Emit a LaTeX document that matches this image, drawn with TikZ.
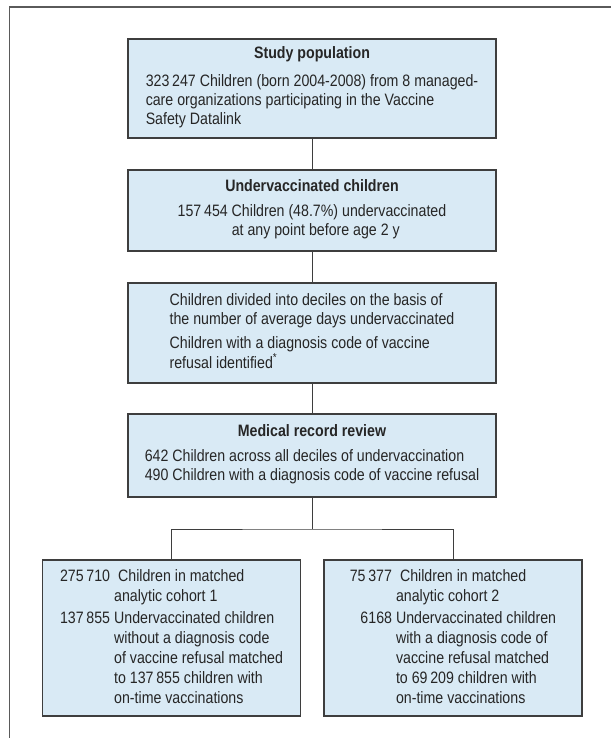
\documentclass[tikz,border=0pt]{standalone}
\usepackage{fontspec}
\setmainfont[FakeStretch=0.86]{Liberation Sans}
\definecolor{boxfill}{RGB}{217,234,245}
\definecolor{boxline}{RGB}{62,62,62}
\definecolor{boxtext}{RGB}{38,38,38}
\definecolor{framegray}{RGB}{90,90,90}
\begin{document}
\begin{tikzpicture}[x=1pt,y=-1pt,
  box/.style={draw=boxline,fill=boxfill,line width=1.1pt,inner sep=0pt,align=center,
    text=boxtext,font=\fontsize{16.5}{19}\selectfont},
  wide/.style={box,minimum width=368pt},
  cohort/.style={box,minimum width=258pt,minimum height=156pt,
    font=\fontsize{16.5}{20}\selectfont},
  link/.style={draw=boxline,line width=1pt}]
\useasboundingbox (0,0) rectangle (610,738);
\draw[framegray,line width=1.4pt] (9.5,740) -- (9.5,7) -- (612,7);
\node[wide,minimum height=99pt] (S0) at (312,88.5) {\textbf{Study population}\\[10pt]
  \begin{tabular}{@{}l@{}}323\,247 Children (born 2004-2008) from 8 managed-\\
  care organizations participating in the Vaccine\\ Safety Datalink\end{tabular}};
\node[wide,minimum height=81pt] (S1) at (312,210.5) {\textbf{Undervaccinated children}\\[10pt]
  \begin{tabular}{@{}r@{\ }l@{}}157\,454 & Children (48.7\%) undervaccinated\\
  & at any point before age 2 y\end{tabular}};
\node[wide,minimum height=100pt] (S2) at (312,333) {\begin{tabular}{@{}l@{}}
  Children divided into deciles on the basis of\\
  the number of average days undervaccinated\\[5pt]
  Children with a diagnosis code of vaccine\\
  refusal identified\textsuperscript{*}\end{tabular}};
\node[wide,minimum height=83pt] (S3) at (312,455.5) {\textbf{Medical record review}\\[10pt]
  \begin{tabular}{@{}r@{\ }l@{}}642 & Children across all deciles of undervaccination\\
  490 & Children with a diagnosis code of vaccine refusal\end{tabular}};
\node[cohort] (C1) at (171.5,638) {\begin{tabular}{@{}r@{\hspace{4pt}}l@{}}
  275\,710 & \hspace{4pt}Children in matched\\
  & analytic cohort 1\\[2pt]
  137\,855 & Undervaccinated children\\
  & without a diagnosis code\\
  & of vaccine refusal matched\\
  & to 137\,855 children with\\
  & on-time vaccinations\end{tabular}};
\node[cohort] (C2) at (453,638) {\begin{tabular}{@{}r@{\hspace{4pt}}l@{}}
  75\,377 & \hspace{4pt}Children in matched\\
  & analytic cohort 2\\[2pt]
  6168 & Undervaccinated children\\
  & with a diagnosis code of\\
  & vaccine refusal matched\\
  & to 69\,209 children with\\
  & on-time vaccinations\end{tabular}};
\coordinate (split) at (312,529);
\draw[link] (S0) -- (S1);
\draw[link] (S1) -- (S2);
\draw[link] (S2) -- (S3);
\draw[link] (S3) -- (split);
\draw[link] (C1.north) |- (split) -| (C2.north);
\end{tikzpicture}
\end{document}
